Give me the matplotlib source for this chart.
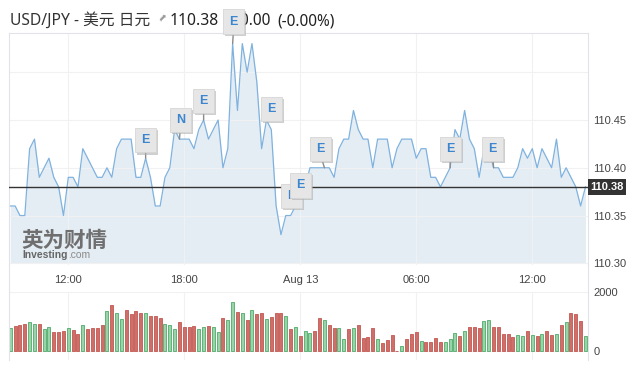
import numpy as np
import pandas as pd
import matplotlib
matplotlib.use("Agg")
import matplotlib.pyplot as plt
import matplotlib.dates as mdates
import matplotlib.transforms as mtransforms
import matplotlib.patheffects as pe

# 15-minute USD/JPY quotes, Aug 12 09:00 -> Aug 13 14:45
price = [110.36, 110.36, 110.35, 110.35, 110.42, 110.43, 110.39, 110.40, 110.41, 110.39,
         110.38, 110.35, 110.39, 110.39, 110.38, 110.42, 110.41, 110.40, 110.39, 110.39,
         110.40, 110.39, 110.42, 110.43, 110.43, 110.43, 110.39, 110.39, 110.41, 110.39,
         110.36, 110.36, 110.39, 110.40, 110.44, 110.43, 110.43, 110.43, 110.42, 110.44,
         110.45, 110.43, 110.44, 110.45, 110.40, 110.42, 110.53, 110.46, 110.53, 110.50,
         110.53, 110.49, 110.42, 110.45, 110.44, 110.36, 110.33, 110.35, 110.35, 110.36,
         110.37, 110.38, 110.40, 110.40, 110.40, 110.40, 110.40, 110.39, 110.42, 110.43,
         110.43, 110.46, 110.44, 110.43, 110.43, 110.40, 110.43, 110.43, 110.43, 110.40,
         110.42, 110.43, 110.43, 110.43, 110.41, 110.42, 110.42, 110.39, 110.39, 110.38,
         110.39, 110.40, 110.44, 110.43, 110.46, 110.43, 110.42, 110.39, 110.42, 110.42,
         110.40, 110.40, 110.39, 110.39, 110.39, 110.40, 110.42, 110.41, 110.42, 110.40,
         110.42, 110.41, 110.40, 110.43, 110.39, 110.40, 110.39, 110.38, 110.36, 110.38]

volume = [766, 834, 869, 903, 971, 903, 903, 731, 800, 629,
          629, 663, 766, 697, 560, 869, 731, 766, 766, 869,
          1349, 1554, 1280, 1074, 1383, 1246, 1349, 1280, 1280, 1177,
          1177, 1109, 903, 869, 731, 971, 800, 800, 834, 731,
          800, 834, 800, 629, 1109, 1040, 1657, 1314, 1280, 1040,
          1383, 1246, 1280, 1074, 1143, 1280, 1280, 1177, 731, 800,
          491, 663, 594, 674, 1109, 1051, 869, 766, 766, 400,
          743, 766, 869, 423, 457, 766, 389, 251, 354, 526,
          0, 149, 400, 560, 629, 320, 286, 286, 423, 286,
          286, 389, 594, 491, 663, 800, 800, 766, 1006, 1040,
          800, 800, 560, 560, 457, 526, 491, 663, 526, 491,
          560, 663, 526, 560, 869, 971, 1280, 1246, 1006, 491]

# G = up bar, R = down bar
bar_dir = ("GRRRGGRGGR" "RRGRRGRRRR" "GRGGRRRRGR" "RRGGGRRRRG" "GRGGRGGRGR"
           "GRRGRRRGRG" "RGGR" "RGRRGGRGRR" "RRGRRRRGRR" "RGRRRRGGGR"
           "GRRRGGRRRR" "RGGRGRGRRG" "RGRRRG")

event_idx = [28, 35, 40, 46, 53, 59, 60, 65, 91, 100]
event_txt = ["E", "N", "E", "E", "E", "E", "E", "E", "E", "E"]

last_price = 110.38
price_ticks = [110.30, 110.35, 110.40, 110.45, 110.50]
price_labels = ["110.30", "110.35", "110.40", "110.45", ""]
time_ticks = ["2021-08-12 12:00", "2021-08-12 18:00", "2021-08-13 00:00",
              "2021-08-13 06:00", "2021-08-13 12:00"]
time_labels = ["12:00", "18:00", "Aug 13", "06:00", "12:00"]

times = pd.date_range("2021-08-12 09:00", periods=len(price), freq="15min")
tnum = mdates.date2num(times)

W, H = 631, 366
fig = plt.figure(figsize=(W / 100, H / 100), dpi=100)


def fx(px):
    return px / W


def fy(py):
    return 1 - py / H


border = "#e2e2ea"
grid = "#f1f1f4"
tick_font = dict(family="Liberation Sans", size=8, color="#444444")

ax = fig.add_axes([fx(9), fy(265), fx(588) - fx(9), (265 - 33) / H])
axv = fig.add_axes([fx(9), fy(360), fx(588) - fx(9), (360 - 292.3) / H])

px_per_day = 19.333 * 24
xlim = (tnum[0] - 1.3 / px_per_day, tnum[0] + 577.7 / px_per_day)

# price panel
ax.fill_between(tnum, price, 110.30, color="#e4edf3", lw=0, zorder=1)
ax.plot(tnum, price, color="#7fb2df", lw=0.9, zorder=2)
ax.axhline(last_price, color="#333333", lw=1.0, zorder=3)
ax.set_xlim(xlim)
ax.set_ylim(110.30 - 1.7 / 955, 110.45 + 87 / 955)
ax.yaxis.tick_right()
ax.set_yticks(price_ticks)
ax.set_yticklabels(price_labels)
ax.set_xticks(mdates.date2num(pd.to_datetime(time_ticks)))
ax.set_xticklabels(time_labels)
ax.tick_params(length=0, pad=4)
ax.tick_params(axis="x", pad=7)
for lab in ax.get_xticklabels() + ax.get_yticklabels():
    lab.set(**tick_font)
ax.grid(True, color=grid, lw=0.8, zorder=0)
for s in ["left", "right", "top"]:
    ax.spines[s].set_color(border)
ax.spines["bottom"].set_visible(False)

# last price tag
trans = mtransforms.blended_transform_factory(ax.transAxes, ax.transData)
ax.text(1.004, last_price, "110.38", transform=trans, ha="left", va="center",
        family="Liberation Sans", size=8, weight="bold", color="white",
        bbox=dict(boxstyle="square,pad=0.25", fc="#333333", ec="none"),
        clip_on=False, zorder=5)

# event markers
offsets = [(0, 18), (1, 19), (0, 19), (1, 22), (5, 11), (-4, 10), (0, 11), (-4, 19), (0, 19), (-1, 19)]
for (i, t), (dx, dy) in zip(zip(event_idx, event_txt), offsets):
    xy = (tnum[i], price[i])
    ax.annotate("", xy=xy, xytext=(dx, dy - 6), textcoords="offset pixels",
                arrowprops=dict(arrowstyle="-", color="#8a8a8a", lw=1.0, shrinkA=0, shrinkB=0),
                annotation_clip=False, zorder=8)
    a = ax.annotate(t, xy=xy, xytext=(dx, dy), textcoords="offset pixels",
                    ha="center", va="center", color="#3c86cf", size=9,
                    family="Liberation Sans", weight="bold",
                    bbox=dict(boxstyle="square,pad=0.5", fc="#e6e6e6", ec="#d6d6d6", lw=0.6),
                    annotation_clip=False, zorder=10)
    a.get_bbox_patch().set_path_effects(
        [pe.SimplePatchShadow(offset=(1.5, -1.5), shadow_rgbFace="#b0b0b0", alpha=0.6), pe.Normal()])

# header
head = dict(transform=fig.transFigure, va="baseline", zorder=1, clip_on=False)
fam = ["Noto Sans", "Noto Sans CJK SC"]
ax.text(fx(9.5), fy(25), "USD/JPY - 美元 日元", family=fam, size=11.3, color="#333333", **head)
ax.text(fx(156.5), fy(22), "➦", family="DejaVu Sans", size=7.5, color="#9a9a9a", rotation=45, **head)
ax.text(fx(170), fy(25), "110.38", family=fam, size=11.3, weight="bold", color="#222222", **head)
ax.text(fx(235), fy(25), "-0.00", family=fam, size=11.1, weight="bold", color="#222222", **head)
ax.text(fx(277), fy(25), "(-0.00%)", family=fam, size=11.1, weight="bold", color="#222222", **head)

# watermark
ax.text(fx(21.5), fy(247), "英为财情", transform=fig.transFigure, family="Noto Sans CJK SC",
        size=15.5, weight="bold", color="#6f6f6f", zorder=2)
inv = ax.text(fx(22.5), fy(257.5), "Investing", transform=fig.transFigure, family="Liberation Sans",
              size=7.4, weight="bold", color="#666666", zorder=2)
ax.annotate(".com", xy=(1, 0), xycoords=inv, xytext=(0.5, 0), textcoords="offset points",
            ha="left", va="bottom", family="Liberation Sans", size=7.4, color="#8a8a8a",
            annotation_clip=False, zorder=2)

# volume panel
cols = {"G": ("#98d4a8", "#5fb378"), "R": ("#cf6f6a", "#c8655f")}
fc = [cols[c][0] for c in bar_dir]
ec = [cols[c][1] for c in bar_dir]
axv.bar(tnum, volume, width=0.155 / 24, color=fc, edgecolor=ec, lw=0.7, zorder=2)
axv.set_xlim(xlim)
axv.set_ylim(-318, 2000)
axv.yaxis.tick_right()
axv.set_yticks([0, 2000])
axv.set_yticklabels(["0", "2000"])
axv.set_xticks(mdates.date2num(pd.to_datetime(time_ticks)))
axv.set_xticklabels([])
axv.tick_params(length=0, pad=4)
for lab in axv.get_yticklabels():
    lab.set(**tick_font)
axv.grid(True, color=grid, lw=0.8, zorder=0)
for s in ["left", "right"]:
    axv.spines[s].set_color(border)
for s in ["top", "bottom"]:
    axv.spines[s].set_visible(False)

# connect the outer border between the panels
for px in (9, 588):
    fig.add_artist(plt.Line2D([fx(px), fx(px)], [fy(265), fy(292.3)], color=border, lw=0.8))

fig.savefig("out.png", dpi=100)
